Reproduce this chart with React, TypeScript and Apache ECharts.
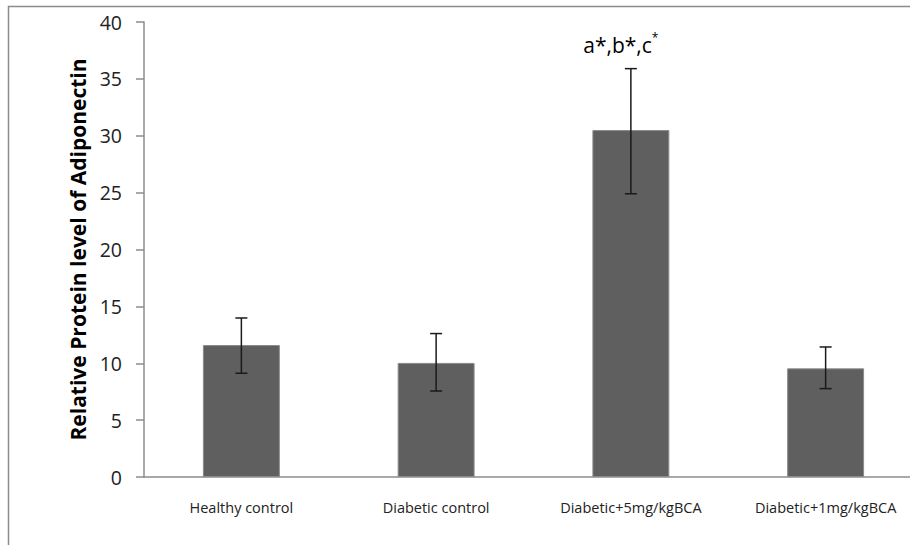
import React, { useEffect, useRef } from "react";
import * as echarts from "echarts";

const categories = ["Healthy control", "Diabetic control", "Diabetic+5mg/kgBCA", "Diabetic+1mg/kgBCA"];
const means = [11.6, 10.03, 30.5, 9.55];
const errLow = [9.12, 7.56, 24.9, 7.77];
const errHigh = [13.98, 12.61, 35.9, 11.43];
const annotations = ["", "", "a*,b*,c", ""];
const yTicks = [0, 5, 10, 15, 20, 25, 30, 35, 40];
const yTitle = "Relative Protein level of Adiponectin";

export default function App() {
  const ref = useRef<HTMLDivElement>(null);
  useEffect(() => {
    if (!ref.current) return;
    const chart = echarts.init(ref.current, null, { renderer: "svg" });
    const errData = categories.map((_, i) => [i, errLow[i], errHigh[i], annotations[i]]);
    chart.setOption({
      animation: false,
      backgroundColor: "#ffffff",
      textStyle: { fontFamily: "Open Sans" },
      graphic: [
        {
          type: "rect",
          shape: { x: 8.5, y: 6.5, width: 1000, height: 1000 },
          style: { fill: "none", stroke: "#8c8c8c", lineWidth: 1.5 },
          silent: true,
        },
      ],
      grid: { left: 144, top: 22, width: 779, bottom: 68, containLabel: false, outerBoundsMode: "none" },
      xAxis: {
        type: "category",
        data: categories,
        axisLine: { lineStyle: { color: "#8c8c8c", width: 1.5 } },
        axisTick: { show: false },
        axisLabel: { color: "#222", fontSize: 14.5, margin: 23, fontFamily: "Open Sans" },
      },
      yAxis: {
        type: "value",
        min: yTicks[0],
        max: yTicks[yTicks.length - 1],
        interval: 5,
        name: yTitle,
        nameLocation: "middle",
        nameGap: 49,
        nameTextStyle: { fontSize: 21, fontWeight: "bold", color: "#000", fontFamily: "Open Sans" },
        axisLine: { show: true, lineStyle: { color: "#8c8c8c", width: 1.5 } },
        axisTick: { show: true, length: 8, lineStyle: { color: "#8c8c8c", width: 1.5 } },
        axisLabel: { color: "#222", fontSize: 19.5, margin: 22, fontFamily: "Open Sans" },
        splitLine: { show: false },
      },
      series: [
        {
          type: "bar",
          data: means,
          barWidth: "39.5%",
          itemStyle: { color: "#5f5f5f", borderColor: "#8a8a8a", borderWidth: 1 },
        },
        {
          type: "custom",
          data: errData,
          z: 10,
          renderItem: (params: any, api: any) => {
            const i = api.value(0);
            const lo = api.coord([i, api.value(1)]);
            const hi = api.coord([i, api.value(2)]);
            const x = lo[0];
            const cap = 6;
            const style = { stroke: "#1a1a1a", lineWidth: 1.5 };
            const children: any[] = [
              { type: "line", shape: { x1: x, y1: lo[1], x2: x, y2: hi[1] }, style },
              { type: "line", shape: { x1: x - cap, y1: lo[1], x2: x + cap, y2: lo[1] }, style },
              { type: "line", shape: { x1: x - cap, y1: hi[1], x2: x + cap, y2: hi[1] }, style },
            ];
            const ann = annotations[i];
            if (ann) {
              children.push({
                type: "text",
                x: x - 10,
                y: hi[1] - 24,
                style: {
                  text: "{n|" + ann + "}{s|*}",
                  align: "center",
                  verticalAlign: "middle",
                  fill: "#000",
                  rich: {
                    n: { fontSize: 21, fontFamily: "Open Sans", fill: "#000", lineHeight: 26 },
                    s: { fontSize: 12, fontFamily: "Open Sans", fill: "#000", lineHeight: 26, padding: [0, 0, 14, 0] },
                  },
                },
              });
            }
            return { type: "group", children };
          },
        },
      ],
    });
    return () => chart.dispose();
  }, []);
  return (
    <div
      ref={ref}
      style={{ position: "fixed", left: 0, top: 0, width: 910, height: 545, background: "#fff" }}
    />
  );
}
